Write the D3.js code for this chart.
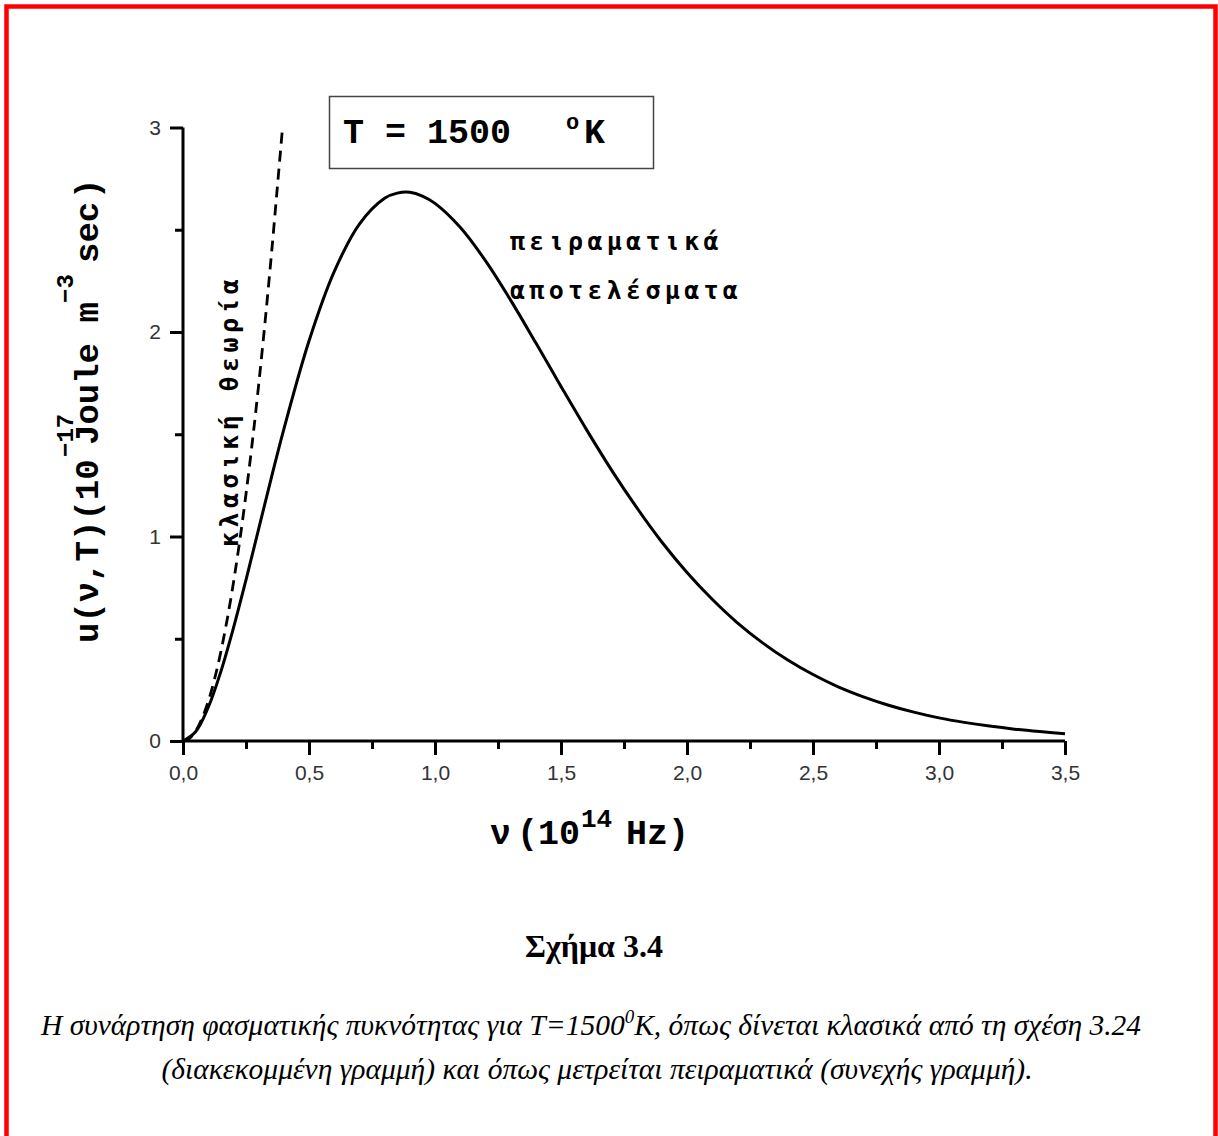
<!DOCTYPE html>
<html><head><meta charset="utf-8">
<script src="https://cdn.jsdelivr.net/npm/d3@7/dist/d3.min.js"></script>
<style>
html,body{margin:0;padding:0;background:#fff;}
svg{display:block;}
</style></head>
<body>
<svg id="chart" width="1218" height="1136"></svg>
<script>
// ---- data ----
const nuMeasured = [0, 0.05, 0.1, 0.15, 0.2, 0.25, 0.3, 0.35, 0.4, 0.5, 0.6, 0.7, 0.8, 0.85, 0.9, 0.95, 1.0, 1.1, 1.2, 1.3, 1.4, 1.5, 1.6, 1.7, 1.8, 1.9, 2.0, 2.1, 2.2, 2.3, 2.4, 2.5, 2.6, 2.7, 2.8, 2.9, 3.0, 3.1, 3.2, 3.3, 3.4, 3.5];
const uMeasured  = [0, 0.045, 0.164, 0.339, 0.552, 0.788, 1.036, 1.284, 1.524, 1.956, 2.295, 2.528, 2.654, 2.679, 2.683, 2.665, 2.629, 2.512, 2.349, 2.156, 1.947, 1.734, 1.525, 1.326, 1.142, 0.973, 0.824, 0.693, 0.578, 0.480, 0.396, 0.325, 0.265, 0.216, 0.175, 0.141, 0.113, 0.091, 0.073, 0.058, 0.046, 0.036];
const nuClassical = [0, 0.025, 0.05, 0.075, 0.1, 0.125, 0.15, 0.175, 0.2, 0.225, 0.25, 0.275, 0.3, 0.325, 0.35, 0.375, 0.395];
const uClassical  = [0, 0.012, 0.048, 0.109, 0.193, 0.302, 0.435, 0.592, 0.773, 0.978, 1.208, 1.461, 1.739, 2.041, 2.367, 2.717, 3.0];
const xMajorTicks = [0, 0.5, 1.0, 1.5, 2.0, 2.5, 3.0, 3.5];
const xTickLabels = ["0,0", "0,5", "1,0", "1,5", "2,0", "2,5", "3,0", "3,5"];
const xMinorTicks = [0.25, 0.75, 1.25, 1.75, 2.25, 2.75, 3.25];
const yMajorTicks = [0, 1, 2, 3];
const yTickLabels = ["0", "1", "2", "3"];
const yMinorTicks = [0.5, 1.5, 2.5];

// ---- layout ----
const svg = d3.select("#chart");
const x = d3.scaleLinear().domain([0, 3.5]).range([183, 1065]);
const y = d3.scaleLinear().domain([0, 3]).range([741, 127.5]);

// red frame
svg.append("rect").attr("x", 6.5).attr("y", 6.5).attr("width", 1209).attr("height", 1200)
  .attr("fill", "none").attr("stroke", "#ff0000").attr("stroke-width", 4.5);

const tickFont = "'Liberation Sans', Arial, sans-serif";
const mono = "'Liberation Mono', 'Courier New', monospace";
const greekMono = "'DejaVu Sans Mono', 'Liberation Mono', monospace";

// x axis
const xAxis = svg.append("g").attr("transform", `translate(0,${y(0)})`)
  .call(d3.axisBottom(x).tickValues(xMajorTicks).tickSize(14).tickPadding(10)
        .tickFormat((d, i) => xTickLabels[i]));
const xMinor = svg.append("g").attr("transform", `translate(0,${y(0)})`)
  .call(d3.axisBottom(x).tickValues(xMinorTicks).tickSize(8).tickFormat(""));
// y axis
const yAxis = svg.append("g").attr("transform", `translate(${x(0)},0)`)
  .call(d3.axisLeft(y).tickValues(yMajorTicks).tickSize(13).tickPadding(9)
        .tickFormat((d, i) => yTickLabels[i]));
const yMinor = svg.append("g").attr("transform", `translate(${x(0)},0)`)
  .call(d3.axisLeft(y).tickValues(yMinorTicks).tickSize(8).tickFormat(""));

[xAxis, xMinor, yAxis, yMinor].forEach(g => {
  g.select(".domain").attr("stroke", "#000").attr("stroke-width", 3)
    .attr("d", g === xAxis || g === xMinor
      ? `M${x(0)},0H${x(3.5)}` : `M0,${y(0)+1.5}V${y(3)}`);
  g.selectAll(".tick line").attr("stroke", "#000").attr("stroke-width", 3);
  g.selectAll(".tick text").attr("font-family", tickFont).attr("font-size", 21)
    .attr("fill", "#333");
});
xMinor.select(".domain").remove();
yMinor.select(".domain").remove();

// curves
const lineGen = d3.line().x(d => x(d[0])).y(d => y(d[1])).curve(d3.curveCatmullRom.alpha(0.5));
svg.append("path").datum(nuClassical.map((v, i) => [v, uClassical[i]]))
  .attr("d", lineGen).attr("fill", "none").attr("stroke", "#000")
  .attr("stroke-width", 2.8).attr("stroke-dasharray", "11,7");
svg.append("path").datum(nuMeasured.map((v, i) => [v, uMeasured[i]]))
  .attr("d", lineGen).attr("fill", "none").attr("stroke", "#000")
  .attr("stroke-width", 3);

// temperature box
svg.append("rect").attr("x", 329.5).attr("y", 96.5).attr("width", 324).attr("height", 72)
  .attr("fill", "#fff").attr("stroke", "#444").attr("stroke-width", 1.5);
const tb = svg.append("text").attr("font-family", mono).attr("font-weight", "bold")
  .attr("font-size", 35).attr("fill", "#000").attr("y", 143);
tb.append("tspan").attr("x", 343).text("T = 1500");
tb.append("tspan").attr("x", 566).attr("y", 129).attr("font-size", 22).text("o");
tb.append("tspan").attr("x", 584).attr("y", 143).text("K");

// annotations
svg.append("text").attr("font-family", greekMono).attr("font-weight", "bold").attr("font-size", 25)
  .attr("letter-spacing", 4.3).attr("fill", "#000")
  .attr("x", 510).attr("y", 250).text("πειραματικά");
svg.append("text").attr("font-family", greekMono).attr("font-weight", "bold").attr("font-size", 25)
  .attr("letter-spacing", 4.3).attr("fill", "#000")
  .attr("x", 510).attr("y", 299).text("αποτελέσματα");
svg.append("text").attr("font-family", greekMono).attr("font-weight", "bold").attr("font-size", 25)
  .attr("letter-spacing", 4.4).attr("fill", "#000")
  .attr("transform", "translate(238,547) rotate(-90)").text("κλασική θεωρία");

// y-axis title
const yt = svg.append("text").attr("font-family", mono).attr("font-weight", "bold")
  .attr("font-size", 34).attr("fill", "#000")
  .attr("transform", "translate(98,643) rotate(-90)");
yt.append("tspan").attr("x", 0).attr("y", 0).text("u(ν,T)(10");
yt.append("tspan").attr("x", 186).attr("y", -25).attr("font-size", 24).text("−17");
yt.append("tspan").attr("x", 198).attr("y", 0).text("Joule m");
yt.append("tspan").attr("x", 340).attr("y", -25).attr("font-size", 24).text("−3");
yt.append("tspan").attr("x", 380).attr("y", 0).text("sec");
yt.append("tspan").attr("x", 444).attr("y", 0).text(")");

// x-axis title
const xt = svg.append("text").attr("font-family", mono).attr("font-weight", "bold")
  .attr("font-size", 35).attr("fill", "#000").attr("y", 844);
xt.append("tspan").attr("x", 490).text("ν");
xt.append("tspan").attr("x", 517).text("(10");
xt.append("tspan").attr("x", 581).attr("y", 827).attr("font-size", 26).text("14");
xt.append("tspan").attr("x", 626).attr("y", 844).text("Hz)");

// caption
const serif = "'Liberation Serif', 'Times New Roman', serif";
svg.append("text").attr("font-family", serif).attr("font-weight", "bold")
  .attr("font-size", 32).attr("text-anchor", "middle").attr("fill", "#000")
  .attr("x", 594).attr("y", 957).text("Σχήμα 3.4");
const c1 = svg.append("text").attr("font-family", serif).attr("font-style", "italic")
  .attr("font-size", 29.5).attr("text-anchor", "middle").attr("fill", "#000")
  .attr("x", 591).attr("y", 1035);
c1.append("tspan").text("Η συνάρτηση φασματικής πυκνότητας για T=1500");
c1.append("tspan").attr("dy", -12).attr("font-size", 19).text("0");
c1.append("tspan").attr("dy", 12).text("K, όπως δίνεται κλασικά από τη σχέση 3.24");
svg.append("text").attr("font-family", serif).attr("font-style", "italic")
  .attr("font-size", 29.5).attr("text-anchor", "middle").attr("fill", "#000")
  .attr("x", 597).attr("y", 1079)
  .text("(διακεκομμένη γραμμή) και όπως μετρείται πειραματικά (συνεχής γραμμή).");
</script>
</body></html>
